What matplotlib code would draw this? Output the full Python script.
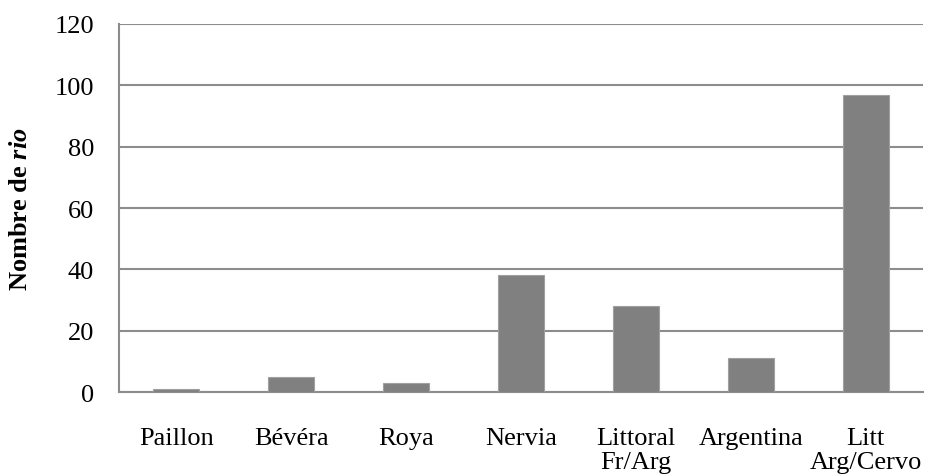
import matplotlib
matplotlib.use('Agg')
import matplotlib.pyplot as plt
import numpy as np

# données
categories = ["Paillon", "Bévéra", "Roya", "Nervia", "Littoral\nFr/Arg",
              "Argentina", "Litt\nArg/Cervo"]
valeurs = [1, 5, 3, 38, 28, 11, 97]
y_ticks = [0, 20, 40, 60, 80, 100, 120]

plt.rcParams['font.family'] = ['Liberation Serif', 'DejaVu Serif']
plt.rcParams['mathtext.fontset'] = 'custom'
plt.rcParams['mathtext.rm'] = 'Liberation Serif:bold'
plt.rcParams['mathtext.it'] = 'Liberation Serif:italic:bold'

GRIS = "#808080"
GRILLE = "#8c8c8c"
TAILLE = 19

fig = plt.figure(figsize=(9.25, 4.77), dpi=100)
ax = fig.add_axes([0.1286, 0.176, 0.8694, 0.7716])

x = np.arange(len(categories))
ax.bar(x, valeurs, width=0.4, color=GRIS, edgecolor="#a0a0a0",
       linewidth=0.8, zorder=3)

ax.set_xlim(-0.5, len(categories) - 0.5)
ax.set_ylim(0, 120)
ax.set_yticks(y_ticks)
ax.set_xticks(x)
ax.set_xticklabels(categories, fontsize=TAILLE, linespacing=1.12, va="top")
ax.tick_params(axis="x", length=0, pad=25)
ax.tick_params(axis="y", length=0, pad=18, labelsize=TAILLE)

ax.grid(True, axis="y", color=GRILLE, linewidth=1.5, zorder=0)
for s in ["top", "right"]:
    ax.spines[s].set_visible(False)
for s in ["left", "bottom"]:
    ax.spines[s].set_color(GRILLE)
    ax.spines[s].set_linewidth(1.5)

ax.set_ylabel(r"Nombre de $\mathit{rio}$", fontsize=TAILLE,
              fontweight="bold", labelpad=16)

plt.savefig("out.png", dpi=100, facecolor="white")
plt.close()
